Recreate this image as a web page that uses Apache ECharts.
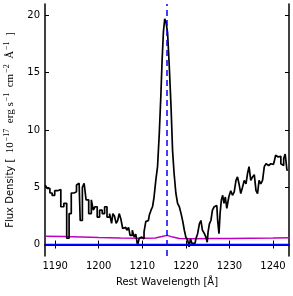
<!DOCTYPE html>
<html><head><meta charset="utf-8">
<script src="https://cdn.jsdelivr.net/npm/echarts@6/dist/echarts.min.js"></script>
<style>html,body{margin:0;padding:0;background:#fff}#c{width:293px;height:296px}</style>
</head><body><div id="c"></div>
<script>
const wavelength = [1187.7,1188.6,1189.0,1189.6,1190.2,1190.9,1191.7,1192.3,1193.0,1193.4,1194.0,1194.7,1195.1,1195.5,1196.0,1196.5,1196.8,1197.4,1198.0,1198.6,1198.9,1199.4,1199.9,1200.5,1201.1,1201.6,1202.2,1202.8,1203.1,1203.4,1203.8,1204.2,1204.5,1204.9,1205.3,1205.7,1206.2,1206.7,1207.0,1207.4,1208.0,1208.3,1208.7,1209.1,1209.5,1209.9,1210.2,1210.6,1211.0,1211.4,1211.8,1212.2,1212.5,1212.9,1213.3,1213.7,1214.1,1214.4,1214.7,1215.0,1215.3,1215.6,1216.0,1216.4,1216.8,1217.1,1217.5,1217.9,1218.3,1218.7,1219.1,1219.5,1219.8,1220.2,1220.6,1220.9,1221.2,1221.6,1222.1,1222.5,1222.9,1223.3,1223.6,1224.0,1224.4,1224.8,1225.0,1225.2,1225.6,1225.9,1226.3,1226.7,1227.1,1227.5,1227.7,1228.0,1228.3,1228.6,1228.9,1229.2,1229.6,1230.1,1230.5,1230.9,1231.3,1231.7,1232.0,1232.4,1232.8,1233.2,1233.6,1234.0,1234.3,1234.7,1235.1,1235.5,1235.9,1236.3,1236.6,1237.0,1237.4,1237.8,1238.2,1238.6,1239.0,1239.3,1239.7,1240.1,1240.4,1240.8,1241.2,1241.6,1242.0,1242.3,1242.6,1243.0,1243.4];
const flux = [5.2,4.9,4.5,4.3,4.7,4.8,3.3,3.6,0.55,2.7,4.5,4.6,5.2,5.35,2.1,5.0,5.35,3.9,2.7,3.9,3.0,3.3,2.4,3.0,2.7,3.3,2.4,2.7,1.85,2.7,2.5,1.85,2.1,2.7,2.2,1.4,1.5,1.25,1.5,0.8,1.25,0.65,0.9,-0.05,0.55,0.65,0.5,1.1,2.0,2.1,2.55,3.0,3.3,4.15,5.6,6.8,9.7,12.9,16.1,18.6,19.7,19.4,18.5,15.5,12.0,8.2,6.2,4.5,3.6,3.3,2.7,2.0,1.25,0.65,0.4,-0.2,0.5,0.1,0.1,0.5,0.95,1.8,2.1,1.25,1.0,0.65,0.2,1.1,1.8,2.1,3.0,3.3,3.4,2.1,0.95,2.7,3.9,4.3,3.6,4.15,3.15,4.15,4.7,4.3,4.6,5.6,5.9,5.3,4.45,5.0,5.6,5.3,6.2,6.8,5.6,5.9,6.1,4.7,4.45,5.6,5.3,5.6,6.8,7.05,6.9,7.05,7.2,7.0,7.2,7.8,7.65,7.7,7.05,6.9,7.5,7.9,6.5];
const errWavelength = [1187.7,1192,1196,1200,1205,1210,1213,1214.5,1215.7,1217,1218.5,1222,1226,1230,1235,1240,1243.7];
const errFlux = [0.72,0.7,0.66,0.62,0.58,0.56,0.58,0.7,0.8,0.65,0.52,0.5,0.52,0.53,0.55,0.57,0.6];
const lineCenter = 1215.67;
const xMin = 1187.67, xMax = 1243.67;
const xTicks = [1190,1200,1210,1220,1230,1240];
const yTicks = [0,5,10,15,20];

const specData = wavelength.map((w,i)=>[w,flux[i]]);
const errData = errWavelength.map((w,i)=>[w,errFlux[i]]);

const chart = echarts.init(document.getElementById('c'));
const axLine = {show:true, lineStyle:{color:'#000', width:1.5}};
const tickStyle = {inside:true, length:4, lineStyle:{color:'#000', width:1}};
const fmt = v => String(Math.round(v));
chart.setOption({
  animation:false,
  grid:{left:45, right:4, top:4, bottom:40, containLabel:false, outerBoundsMode:'none'},
  xAxis:[{
    type:'value', min:xMin, max:xMax, position:'bottom',
    axisLine:axLine, splitLine:{show:false},
    axisTick:Object.assign({customValues:xTicks}, tickStyle),
    axisLabel:{customValues:xTicks, formatter:fmt, color:'#000', fontFamily:'DejaVu Sans', fontSize:10, margin:5},
    name:'Rest Wavelength [Å]', nameLocation:'middle', nameGap:21,
    nameTextStyle:{color:'#000', fontFamily:'DejaVu Sans', fontSize:10}
  },{
    type:'value', min:xMin, max:xMax, position:'top',
    axisLine:axLine, splitLine:{show:false},
    axisTick:Object.assign({customValues:xTicks}, tickStyle),
    axisLabel:{show:false}
  }],
  yAxis:[{
    type:'value', min:-1, max:21, position:'left',
    axisLine:axLine, splitLine:{show:false},
    axisTick:Object.assign({customValues:yTicks}, tickStyle),
    axisLabel:{customValues:yTicks, formatter:fmt, color:'#000', fontFamily:'DejaVu Sans', fontSize:10, margin:5},
    name:'{a|Flux Density [}{b|  10}{s|−17}{b|  erg s}{s|−1}{b|  cm}{s|−2}{b|  Å}{s|−1}{b|  ]}',
    nameLocation:'middle', nameGap:28, nameRotate:90,
    nameTextStyle:{
      color:'#000',
      rich:{
        a:{fontFamily:'DejaVu Sans', fontSize:10, color:'#000', lineHeight:14},
        b:{fontFamily:'Liberation Serif', fontSize:11, color:'#000', lineHeight:14},
        s:{fontFamily:'Liberation Serif', fontSize:8, color:'#000', lineHeight:14, verticalAlign:'top', padding:[0,0,0,1]}
      }
    }
  },{
    type:'value', min:-1, max:21, position:'right',
    axisLine:axLine, splitLine:{show:false},
    axisTick:Object.assign({customValues:yTicks}, tickStyle),
    axisLabel:{show:false}
  }],
  series:[{
    type:'line', data:errData, showSymbol:false, smooth:false,
    lineStyle:{color:'#c000c0', width:1.5}, z:2
  },{
    type:'line', data:specData, step:'middle', showSymbol:false,
    lineStyle:{color:'#000', width:1.7}, z:3,
    markLine:{
      silent:true, symbol:'none', label:{show:false},
      data:[
        {yAxis:0, lineStyle:{color:'#0000ff', width:1.3, type:'solid'}},
        {xAxis:lineCenter, lineStyle:{color:'#0000ff', width:1.5, type:[6,4]}}
      ]
    }
  }]
});
</script></body></html>
